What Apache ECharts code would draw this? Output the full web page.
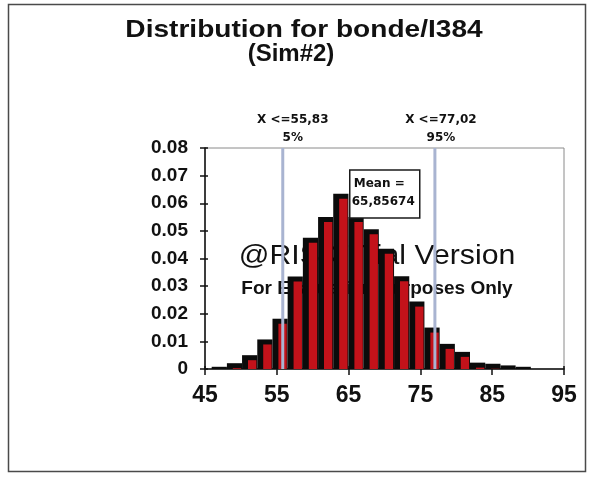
<!DOCTYPE html>
<html>
<head>
<meta charset="utf-8">
<script src="https://cdn.jsdelivr.net/npm/echarts@6/dist/echarts.min.js"></script>
<style>
  html, body { margin: 0; padding: 0; background: #ffffff; }
  #chart { width: 591px; height: 479px; }
</style>
</head>
<body>
<div id="chart"></div>
<script>
// Histogram bins: edges (21 bins) and relative frequency of each bin
const binEdges = [45.93, 48.05, 50.16, 52.28, 54.40, 56.51, 58.63, 60.75, 62.86, 64.98, 67.10,
                  69.21, 71.33, 73.45, 75.56, 77.68, 79.80, 81.91, 84.03, 86.15, 88.26, 90.38];
const density = [0.0008, 0.0021, 0.0050, 0.0107, 0.0182, 0.0335, 0.0475, 0.0550, 0.0634, 0.0550, 0.0506,
                 0.0435, 0.0336, 0.0244, 0.0150, 0.0091, 0.0062, 0.0023, 0.0019, 0.0013, 0.0008];

// Axis ticks
const xTicks = [45, 55, 65, 75, 85, 95];
const yMin = 0, yMax = 0.08, yStep = 0.01;

// Percentile markers
const pctValues = [55.83, 77.02];
const pctValueText = ['X <=55,83', 'X <=77,02'];
const pctNames = ['5%', '95%'];

// Mean
const meanValue = 65.85674;
const meanText = ['Mean =', '65,85674'];

const titleLines = ['Distribution for bonde/I384', '(Sim#2)'];
const watermark = ['@RISK Trial Version', 'For Evaluation Purposes Only'];

const SANS = '"Liberation Sans", Arial, sans-serif';
const SMALL = '"DejaVu Sans", Verdana, sans-serif';

const chart = echarts.init(document.getElementById('chart'), null, { renderer: 'canvas' });

const binData = density.map((v, i) => [binEdges[i], binEdges[i + 1], v]);

// Each bin: a black block with a red face set in from the left and top
function renderBin(params, api) {
  const x0 = api.value(0), x1 = api.value(1), v = api.value(2);
  const pTop = api.coord([x0, v]);
  const pBase = api.coord([x1, 0]);
  const w = pBase[0] - pTop[0];
  const h = pBase[1] - pTop[1];
  const children = [{
    type: 'rect',
    shape: { x: pTop[0], y: pTop[1], width: w, height: h },
    style: { fill: '#0b0b0b' }
  }];
  const inset = 5;
  if (h > inset) {
    children.push({
      type: 'rect',
      shape: { x: pTop[0] + w * 0.39, y: pTop[1] + inset, width: w * 0.55, height: h - inset },
      style: { fill: '#c3121a' }
    });
  }
  return { type: 'group', children };
}

const axisCommon = { min: 45, max: 95 };

const option = {
  backgroundColor: '#ffffff',
  animation: false,
  grid: {
    left: 205, right: 27, top: 148, bottom: 110,
    show: true, borderColor: '#8a8a8a', borderWidth: 1, backgroundColor: 'transparent'
  },
  xAxis: [{
    type: 'value', ...axisCommon,
    axisLine: { show: true, onZero: false, lineStyle: { color: '#111', width: 1.5 } },
    axisTick: { show: true, inside: false, length: 6, customValues: xTicks, lineStyle: { color: '#111', width: 1.5 } },
    axisLabel: { show: true, customValues: xTicks, margin: 15, color: '#111',
      fontFamily: SANS, fontWeight: 'bold', fontSize: 23 },
    splitLine: { show: false }
  }, {
    type: 'value', ...axisCommon, position: 'bottom',
    axisLine: { show: false },
    axisTick: { show: true, inside: true, length: 3, customValues: xTicks, lineStyle: { color: '#111', width: 1.5 } },
    axisLabel: { show: false },
    splitLine: { show: false }
  }],
  yAxis: [{
    type: 'value', min: yMin, max: yMax, interval: yStep,
    axisLine: { show: true, onZero: false, lineStyle: { color: '#111', width: 1.5 } },
    axisTick: { show: true, inside: false, length: 5, lineStyle: { color: '#111', width: 1.5 } },
    axisLabel: { show: true, margin: 17, color: '#111',
      fontFamily: SANS, fontWeight: 'bold', fontSize: 19 },
    splitLine: { show: false }
  }, {
    type: 'value', min: yMin, max: yMax, interval: yStep, position: 'left',
    axisLine: { show: false },
    axisTick: { show: true, inside: true, length: 3, lineStyle: { color: '#111', width: 1.5 } },
    axisLabel: { show: false },
    splitLine: { show: false }
  }],
  series: [
    {
      type: 'custom',
      name: 'bins',
      xAxisIndex: 0, yAxisIndex: 0,
      renderItem: renderBin,
      encode: { x: [0, 1], y: 2 },
      data: binData,
      z: 3,
      silent: true
    },
    ...pctValues.map((v) => ({
      type: 'line',
      xAxisIndex: 0, yAxisIndex: 0,
      data: [[v, yMin], [v, yMax]],
      symbol: 'none',
      lineStyle: { color: '#a9b4d1', width: 3 },
      z: 4,
      silent: true
    }))
  ]
};

chart.setOption(option);

// Text overlays: positions of data-bound labels come from the axes
const px = (x, y) => chart.convertToPixel({ xAxisIndex: 0, yAxisIndex: 0 }, [x, y]);

function text(str, x, y, font, align, z, sx) {
  return {
    type: 'text',
    z: z,
    x: x, y: y,
    scaleX: sx || 1,
    style: {
      text: str, x: 0, y: 0, font: font, fill: '#111',
      textAlign: align, textVerticalAlign: 'middle', align: align, verticalAlign: 'middle'
    },
    silent: true
  };
}

const graphics = [];

// Outer frame
graphics.push({
  type: 'rect', z: 0,
  shape: { x: 8.5, y: 4.5, width: 577, height: 467 },
  style: { fill: 'none', stroke: '#4a4a4a', lineWidth: 1.5 },
  silent: true
});

// Title
graphics.push(text(titleLines[0], 304, 30, 'bold 24px ' + SANS, 'center', 10, 1.17));
graphics.push(text(titleLines[1], 291, 54, 'bold 24px ' + SANS, 'center', 10));

// Watermark (sits beneath the bars)
graphics.push(text(watermark[0], 377, 256, '28px ' + SANS, 'center', 1, 1.08));
graphics.push(text(watermark[1], 377, 289, 'bold 19px ' + SANS, 'center', 1));

// Percentile labels above the plot
const pctOffsets = [10, 6];
pctValues.forEach((v, i) => {
  const top = px(v, yMax);
  graphics.push(text(pctValueText[i], top[0] + pctOffsets[i], top[1] - 28, 'bold 12px ' + SMALL, 'center', 10));
  graphics.push(text(pctNames[i], top[0] + pctOffsets[i], top[1] - 10, 'bold 12px ' + SMALL, 'center', 10));
});

// Mean box
const meanTop = px(meanValue, 0.072);
const boxX = meanTop[0] - 5, boxY = meanTop[1];
graphics.push({
  type: 'rect', z: 20,
  shape: { x: boxX, y: boxY, width: 70, height: 48 },
  style: { fill: '#ffffff', stroke: '#1a1a1a', lineWidth: 1.5 },
  silent: true
});
graphics.push(text(meanText[0], boxX + 4, boxY + 14, 'bold 12px ' + SMALL, 'left', 21));
graphics.push(text(meanText[1], boxX + 2, boxY + 32, 'bold 12px ' + SMALL, 'left', 21));

chart.setOption({ graphic: { elements: graphics } });
</script>
</body>
</html>
